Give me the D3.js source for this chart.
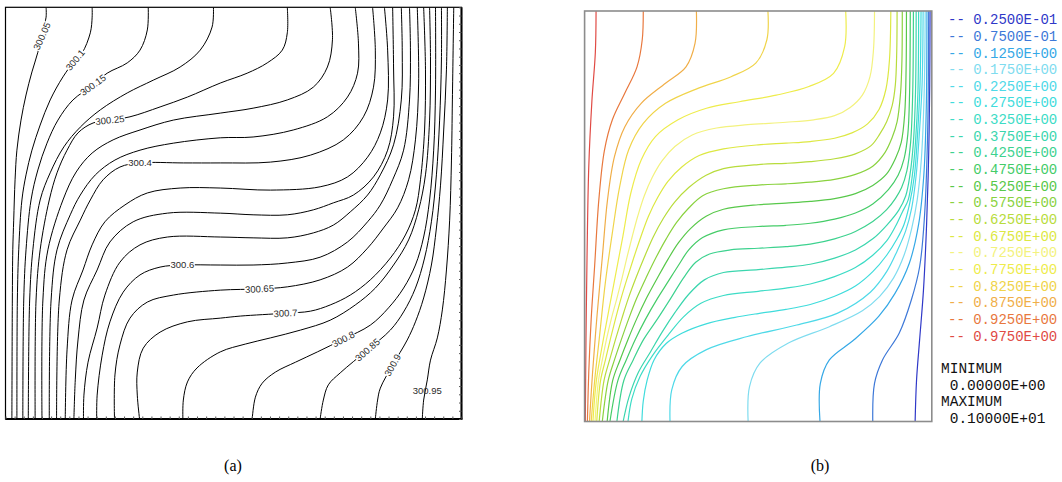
<!DOCTYPE html>
<html><head><meta charset="utf-8">
<script src="https://cdn.jsdelivr.net/npm/d3@7"></script>
<style>
html,body{margin:0;padding:0;background:#fff;}
svg{display:block;}
</style></head><body>
<svg id="chart" width="1062" height="482"></svg>
<script>
// ---------- Panel (a): temperature isotherms (K), cavity coords in % of width/height ----------
const levelsA = [300.05,300.10,300.15,300.20,300.25,300.30,300.35,300.40,300.45,300.50,
                 300.55,300.60,300.65,300.70,300.75,300.80,300.85,300.90,300.95];
const contoursA = [
 [[8.9,100],[8.9,97.6],[8.2,94.5],[7.1,89.1],[5.8,84.3],[4.5,78.7],[3.4,72.6],[2.5,65.3],[2.1,58.1],[1.8,48.3],[1.6,41.1],[1.5,28.9],[1.4,0]],
 [[19.0,100],[19.0,97.6],[18.6,93.8],[16.8,88.9],[15.3,87.2],[12.6,83.1],[9.8,77.5],[7.6,71.4],[5.8,65.3],[4.5,59.3],[3.6,53.2],[2.9,41.1],[2.6,28.9],[2.5,0]],
 [[31.3,100],[31.1,94.5],[29.5,89.6],[26.7,86.5],[22.3,84.0],[19.2,81.1],[14.8,77.5],[11.5,72.6],[9.1,67.0],[7.1,60.5],[5.6,53.2],[4.5,41.1],[4.0,28.9],[3.8,0]],
 [[45.6,100],[45.3,95.2],[42.7,89.6],[38.3,85.5],[32.4,82.3],[26.7,79.2],[20.8,75.1],[16.4,70.9],[12.8,66.1],[9.8,59.8],[7.6,53.2],[6.0,41.1],[5.3,28.9],[5.0,0]],
 [[61.8,100],[61.8,93.8],[60.7,89.6],[57.4,86.5],[53.0,84.0],[47.1,81.6],[39.9,78.2],[33.9,75.8],[27.3,73.4],[22.9,72.6],[19.2,71.9],[15.9,69.5],[13.5,65.3],[11.3,59.8],[9.6,53.2],[7.6,41.1],[6.7,28.9],[6.5,0]],
 [[71.2,100],[71.7,92.1],[70.6,85.5],[67.5,80.6],[61.8,77.5],[54.3,75.5],[47.1,74.3],[36.8,72.6],[29.5,70.2],[23.6,67.8],[19.0,64.6],[15.5,60.0],[12.6,53.2],[9.3,41.1],[8.2,28.9],[8.0,0]],
 [[76.7,100],[77.4,91.3],[77.2,84.0],[75.0,78.2],[70.6,73.4],[63.1,70.2],[54.3,68.5],[47.1,68.3],[36.8,67.0],[29.5,65.3],[24.0,62.9],[19.7,59.3],[16.4,54.4],[14.2,49.6],[11.3,41.1],[10.0,28.9],[9.6,0]],
 [[80.5,100],[81.1,89.6],[80.7,80.6],[78.5,73.4],[74.1,67.8],[66.9,64.1],[58.1,62.4],[47.1,62.2],[39.0,62.2],[29.5,62.2],[25.1,61.2],[21.4,58.1],[18.6,53.2],[16.4,48.3],[13.5,41.1],[11.8,28.9],[11.2,0]],
 [[83.1,100],[83.8,89.6],[83.8,77.5],[82.2,69.5],[79.4,63.6],[75.0,58.8],[69.0,56.4],[58.1,55.6],[47.1,56.1],[38.3,56.1],[31.1,54.9],[26.2,52.0],[21.8,47.9],[19.0,42.3],[17.0,36.2],[14.6,28.9],[13.5,16.8],[13.1,0]],
 [[84.9,100],[85.1,85.5],[85.1,73.4],[83.8,65.3],[80.7,58.8],[76.3,54.4],[71.9,52.5],[67.5,50.8],[61.8,49.6],[54.3,49.6],[47.1,50.0],[35.5,50.0],[28.0,47.9],[22.9,43.0],[20.1,36.2],[17.2,28.9],[15.9,19.2],[15.3,9.5],[15.0,0]],
 [[86.8,100],[87.0,89.6],[86.8,77.5],[85.1,66.6],[82.2,59.3],[79.4,54.4],[75.6,50.3],[71.9,47.1],[67.5,45.2],[61.8,44.0],[54.3,44.0],[47.1,44.2],[35.5,44.2],[29.5,42.3],[25.1,38.1],[21.8,30.1],[20.1,22.1],[18.1,13.8],[17.2,5.8],[17.1,0]],
 [[88.6,100],[88.8,89.6],[88.6,77.5],[87.3,65.3],[84.9,58.1],[82.2,52.0],[79.4,47.9],[75.0,43.0],[69.0,39.3],[61.8,37.9],[54.3,37.4],[47.1,37.4],[38.8,37.4],[33.9,36.9],[29.5,35.0],[25.8,30.8],[22.9,23.6],[21.2,15.5],[20.1,5.8],[20.0,0]],
 [[90.3,100],[90.6,81.6],[89.9,67.8],[88.4,58.1],[86.0,51.3],[82.9,46.4],[79.4,41.5],[75.0,36.9],[69.0,33.8],[61.8,32.1],[55.7,31.6],[47.1,31.3],[36.8,30.1],[31.1,28.4],[27.3,24.5],[25.1,18.0],[24.0,10.7],[23.9,0]],
 [[91.7,100],[92.1,84.8],[91.9,70.2],[91.0,58.1],[89.9,50.8],[87.7,44.7],[84.4,39.1],[80.0,33.8],[75.6,30.1],[71.2,27.7],[66.9,26.2],[61.4,25.7],[51.5,25.0],[47.1,24.5],[39.9,23.6],[33.9,21.1],[30.2,17.2],[28.9,11.4],[28.9,5.8],[29.4,0]],
 [[93.0,100],[93.2,87.2],[93.0,72.6],[92.1,59.3],[90.6,50.8],[88.4,43.5],[85.1,37.4],[81.1,31.8],[76.7,27.7],[71.2,24.0],[64.7,21.6],[58.1,19.7],[52.6,18.2],[47.1,16.3],[42.0,12.4],[39.9,9.0],[39.0,4.6],[38.9,0]],
 [[94.3,100],[94.3,79.9],[93.9,65.3],[93.0,53.2],[91.7,44.2],[89.9,37.4],[87.3,31.8],[84.0,27.0],[80.0,22.8],[74.1,19.4],[68.4,16.3],[63.6,13.8],[59.2,11.4],[56.3,8.7],[54.8,5.3],[54.1,0]],
 [[95.6,100],[95.6,87.2],[95.2,72.6],[94.5,59.3],[93.4,47.9],[91.9,39.1],[89.9,31.8],[87.3,26.0],[84.4,21.6],[79.4,16.8],[73.4,11.2],[70.8,8.3],[69.7,4.6],[69.0,0]],
 [[96.9,100],[96.7,84.8],[96.1,70.2],[95.4,56.8],[94.5,46.4],[93.4,37.4],[91.7,29.4],[89.9,23.6],[88.1,19.2],[84.9,13.1],[82.2,7.5],[81.6,4.6],[81.1,0]],
 [[98.3,100],[98.0,77.5],[97.8,62.9],[97.4,48.3],[96.7,36.2],[95.8,26.5],[94.7,19.7],[93.2,14.3],[92.5,9.5],[91.7,4.6],[91.4,0]]
];
const labelTextA  = ["300.05","300.1","300.15","300.25","300.4","300.6","300.65","300.7","300.8","300.85","300.9","300.95"];
const labelXA     = [8.0, 15.3, 19.2, 22.9, 29.5, 38.8, 55.7, 61.4, 74.1, 79.4, 84.9, 92.5];
const labelYA     = [93.0, 87.2, 81.1, 72.6, 62.2, 37.4, 31.6, 25.7, 19.4, 16.8, 13.1, 7.0];
const labelAngleA = [-66, -50, -36, -6, 0, 0, -3, -3, -27, -41, -61, 0];
const labelGapA   = [1,1,1,1,1,1,1,1,1,1,1,0];

// ---------- Panel (b): non-dimensional temperature ----------
const levelsB = [0.025,0.075,0.125,0.175,0.225,0.275,0.325,0.375,0.425,0.475,
                 0.525,0.575,0.625,0.675,0.725,0.775,0.825,0.875,0.925,0.975];
const legendLabelsB = ["0.2500E-01","0.7500E-01","0.1250E+00","0.1750E+00","0.2250E+00","0.2750E+00",
  "0.3250E+00","0.3750E+00","0.4250E+00","0.4750E+00","0.5250E+00","0.5750E+00","0.6250E+00",
  "0.6750E+00","0.7250E+00","0.7750E+00","0.8250E+00","0.8750E+00","0.9250E+00","0.9750E+00"];
const colorsB = ["#2f38c8","#3d78d8","#35a8e6","#7fdcef","#4fd9e8","#3fdcdc","#3ddcc6","#3bd6ae",
  "#3dd28f","#45cc68","#58c84a","#8ad23f","#b8dc3c","#dde843","#f3f27e","#eeec4c","#f0d44a",
  "#f0ae48","#e8783e","#e04a44"];
const contoursB = [
 [[99.5,100],[99.4,82],[99.1,65],[98.5,48],[97.6,32],[96.5,20],[95.6,10],[95.2,0]],
 [[99.1,100],[98.8,70.2],[97.9,50],[96.5,37.7],[94.1,29.6],[90.6,21.5],[85.8,15],[83.5,9.3],[83.0,0]],
 [[98.6,100],[98.4,76],[97.7,60],[96.2,48],[93.5,38.5],[89.4,31.2],[84.7,25.6],[77.6,19.9],[70.5,15],[67.9,9.3],[67.8,0]],
 [[98.1,100],[97.8,80],[97,64],[95.8,54],[94.2,47],[92,40.5],[89,35],[85,30.5],[80,27],[70.5,23.1],[58.7,19.1],[50.5,14.2],[47.5,8.5],[47.1,0]],
 [[97.5,100],[97.2,82],[96.4,70],[95.5,60],[94.2,52],[92.5,46.5],[90,41.5],[87,36.5],[82.3,31.5],[72.9,26.4],[61.1,23.5],[46.9,20.7],[35.1,17.5],[28.1,13.4],[25.1,7.7],[24.6,0]],
 [[96.9,100],[96.6,82],[95.9,70],[95,60],[93.6,53],[92,48],[90,44.5],[87,40.5],[83,36.5],[78,33],[72,30.5],[65,28.5],[58,27.3],[50,26.3],[43,25.3],[35,23.8],[28,21.5],[23.5,19],[20,15],[18,10],[16.9,5],[16.5,0]],
 [[96.2,100],[96,80],[95.3,68],[94.4,60],[93.2,54],[91.5,51],[89.5,47.5],[87,44],[83,40.5],[78,37.5],[72,35.3],[65,33.5],[58,32.5],[50,31.7],[40,30.7],[33.5,28.8],[28.5,25.5],[24,21],[19.5,16],[16,11],[13.6,5.5],[12.5,0]],
 [[95.5,100],[95.3,80],[94.7,68],[93.7,60],[92.5,55],[90.5,51.5],[87,47.8],[83,44.5],[78,41.8],[72,39.8],[65,38.3],[58,37.6],[50,37],[40,36.3],[34.5,34.5],[30,31],[26,26.5],[22.5,22],[19,17],[15.5,12],[12.8,6],[11.1,0]],
 [[94.7,100],[94.5,80],[93.9,68],[92.8,61],[91.3,57],[89.5,54.3],[87,51.6],[83,48.7],[78,46.3],[72,44.5],[65,43.2],[58,42.6],[50,42.2],[42,41.8],[36,40.8],[32,38.8],[28.5,35],[24.8,30],[21,25],[17,20],[14,15],[11.3,10],[9.3,0]],
 [[93.8,100],[93.6,80],[93.1,70],[92,64],[90.3,60],[87.5,56.5],[83,53],[78,50.8],[72,49.3],[65,48.3],[58,47.8],[50,47.5],[40,46.7],[34,44.8],[30,41.8],[27,38],[24,34],[21,30],[17.6,25],[14.6,20],[12,15],[9.6,10],[7.3,0]],
 [[92.7,100],[92.6,86],[92.2,75],[91.2,68],[89.5,64],[87,60.3],[83,57.5],[78,55.5],[72,54.3],[65,53.6],[58,53.2],[50,52.8],[40,51.7],[35,50],[30.5,47],[27,43.5],[24,39.5],[21,35],[17.8,30],[15,25],[12.5,20],[10.2,15],[8.1,10],[6.5,0]],
 [[91.5,100],[91.4,88],[91,80],[90,73],[88.5,69],[86.5,65.5],[83,62.2],[78,60.2],[72,59],[65,58.3],[58,57.9],[50,57.6],[40,56.7],[34,55],[30,52],[26.5,48.5],[23.5,44.5],[20.6,40],[17.7,35],[15,30],[12.7,25],[10.6,20],[8.6,15],[6.8,10],[5.1,0]],
 [[90,100],[89.9,90],[89.5,82],[88.6,77],[87,73],[85,70],[82.5,67.2],[78,65.2],[72,64],[65,63.3],[58,62.9],[50,62.6],[40,61.6],[35,60],[30,57],[26,53.5],[22.7,49.5],[19.8,45],[17.2,40],[14.8,35],[12.6,30],[10.7,25],[8.9,20],[7.2,15],[5.6,10],[4.2,0]],
 [[88.2,100],[87.8,88],[86.8,81],[84.8,76],[81.5,72.5],[77,70.3],[72,69],[65,68.2],[58,67.8],[50,67.4],[40,66.4],[33,64.8],[28,62],[24,58.5],[21,54.5],[18.4,50],[16.2,45],[14.2,40],[12.3,35],[10.5,30],[8.9,25],[7.4,20],[6,15],[4.6,10],[3.5,0]],
 [[83.5,100],[83.2,90.5],[82.2,84],[80,79.5],[76.5,76.5],[72,74.5],[66,73.5],[58,72.9],[47,72.3],[38,71.5],[31,69.8],[26,67],[22.3,63.5],[19.5,59.5],[17.2,55],[15.3,50],[13.7,45],[12.2,40],[10.8,35],[9.3,30],[7.7,25],[6.3,20],[5.1,15],[4,10],[3,0]],
 [[75.2,100],[74.9,91.3],[71.7,84.8],[64.6,81.6],[55.2,79.5],[44.6,77.9],[35.1,76.3],[26.9,73.5],[20.4,69.4],[16.3,63.7],[13.3,55.6],[11,45],[8.3,33],[5.4,20],[3.4,10],[2.4,0]],
 [[52.8,100],[52.5,93],[49.3,87.3],[42.2,84],[32.8,81.2],[23.3,77.5],[16.9,72.6],[12.7,66.2],[10.1,57.2],[8,46],[6,34],[4.2,20],[2.9,10],[1.9,0]],
 [[32.2,100],[31.8,92.1],[29.2,86.4],[23.3,82.4],[16.3,77.5],[11.6,71.8],[8.6,64.5],[6.6,54],[5.1,40],[3.6,26],[2.3,12],[1.4,0]],
 [[16.9,100],[16.6,93],[15.1,86.4],[11.6,80],[8,73.5],[5.7,66],[4.1,54],[2.9,38],[1.9,25],[1.2,12],[0.8,0]],
 [[3.3,100],[3.1,90],[2.1,78],[1.2,62],[0.7,40],[0.4,20],[0.2,0]]
];
const minMaxLabelsB = ["MINIMUM"," 0.00000E+00","MAXIMUM"," 0.10000E+01"];
const captions = ["(a)","(b)"];

// ---------- drawing ----------
const svg = d3.select("#chart");

// Panel A
const xA = d3.scaleLinear().domain([0,100]).range([5.5, 461.5]);
const yA = d3.scaleLinear().domain([0,100]).range([419, 7.3]);
svg.append("clipPath").attr("id","clipA").append("rect")
  .attr("x", xA(0)).attr("y", yA(100)).attr("width", xA(100)-xA(0)).attr("height", yA(0)-yA(100));
const gA = svg.append("g");
const lineA = d3.line().x(d=>xA(d[0])).y(d=>yA(d[1])).curve(d3.curveCatmullRom.alpha(0.5));
gA.append("g").attr("clip-path","url(#clipA)")
  .selectAll("path").data(contoursA).join("path")
  .attr("d", lineA).attr("fill","none").attr("stroke","#000").attr("stroke-width",1);

labelTextA.forEach((t,i)=>{
  const g = gA.append("g").attr("transform",`translate(${xA(labelXA[i])},${yA(labelYA[i])}) rotate(${labelAngleA[i]})`);
  const txt = g.append("text").text(t)
    .attr("text-anchor","middle").attr("dy","0.35em")
    .attr("font-family","'Liberation Sans', Arial, sans-serif").attr("font-size","9.5px").attr("fill","#2a2a2a");
  if (labelGapA[i]) {
    const bb = txt.node().getBBox();
    g.insert("rect","text").attr("x",bb.x-0.5).attr("y",bb.y+1.5).attr("width",bb.width+1).attr("height",bb.height-3).attr("fill","#fff");
  }
});
// frame A
gA.append("rect").attr("x", xA(0)).attr("y", yA(100)).attr("width", xA(100)-xA(0)).attr("height", yA(0)-yA(100))
  .attr("fill","none").attr("stroke","#000").attr("stroke-width",1.2);
gA.append("line").attr("x1",xA(0)).attr("x2",xA(100)+1).attr("y1",yA(0)).attr("y2",yA(0)).attr("stroke","#000").attr("stroke-width",2.2);
gA.append("line").attr("x1",xA(100)).attr("x2",xA(100)).attr("y1",yA(100)).attr("y2",yA(0)).attr("stroke","#000").attr("stroke-width",2);
const tickAx = d3.axisBottom(xA).ticks(70).tickSize(-2.5).tickFormat("");
gA.append("g").attr("transform",`translate(0,${yA(0)})`).call(tickAx).call(g=>{g.select(".domain").remove(); g.selectAll("line").attr("stroke","#555");});
const tickAr = d3.axisRight(yA).ticks(60).tickSize(-2.5).tickFormat("");
gA.append("g").attr("transform",`translate(${xA(100)},0)`).call(tickAr).call(g=>{g.select(".domain").remove(); g.selectAll("line").attr("stroke","#555");});

// Panel B
const xB = d3.scaleLinear().domain([0,100]).range([584.6, 931.8]);
const yB = d3.scaleLinear().domain([0,100]).range([421.5, 11]);
svg.append("clipPath").attr("id","clipB").append("rect")
  .attr("x", xB(0)).attr("y", yB(100)).attr("width", xB(100)-xB(0)).attr("height", yB(0)-yB(100));
const gB = svg.append("g");
const lineB = d3.line().x(d=>xB(d[0])).y(d=>yB(d[1])).curve(d3.curveCatmullRom.alpha(0.5));
gB.append("g").attr("clip-path","url(#clipB)")
  .selectAll("path").data(contoursB).join("path")
  .attr("d", lineB).attr("fill","none").attr("stroke",(d,i)=>colorsB[i]).attr("stroke-width",1.2);
gB.append("rect").attr("x", xB(0)).attr("y", yB(100)).attr("width", xB(100)-xB(0)).attr("height", yB(0)-yB(100))
  .attr("fill","none").attr("stroke","#8c8c8c").attr("stroke-width",1.6);

// legend
const legY = d3.scaleLinear().domain([0, levelsB.length-1]).range([19.3, 335.7]);
const legFont = "'Liberation Mono', 'DejaVu Sans Mono', monospace";
gB.append("g").selectAll("text").data(levelsB).join("text")
  .attr("x", 948).attr("y",(d,i)=>legY(i)).attr("dy","0.35em")
  .attr("font-family",legFont).attr("font-size","14px")
  .style("white-space","pre")
  .attr("fill",(d,i)=>colorsB[i])
  .text((d,i)=>"-- " + legendLabelsB[i]);
const mmY = [368, 384.5, 401, 417.5];
gB.append("g").selectAll("text").data(minMaxLabelsB).join("text")
  .attr("x", 941).attr("y",(d,i)=>mmY[i]).attr("dy","0.35em")
  .attr("font-family",legFont).attr("font-size","14.5px").attr("fill","#111")
  .style("white-space","pre")
  .text(d=>d);

// captions
svg.append("text").attr("x",233).attr("y",465).attr("dy","0.35em").attr("text-anchor","middle")
  .attr("font-family","'Liberation Serif','Times New Roman',serif").attr("font-size","16px").text(captions[0]);
svg.append("text").attr("x",820).attr("y",465).attr("dy","0.35em").attr("text-anchor","middle")
  .attr("font-family","'Liberation Serif','Times New Roman',serif").attr("font-size","16px").text(captions[1]);
</script>
</body></html>
